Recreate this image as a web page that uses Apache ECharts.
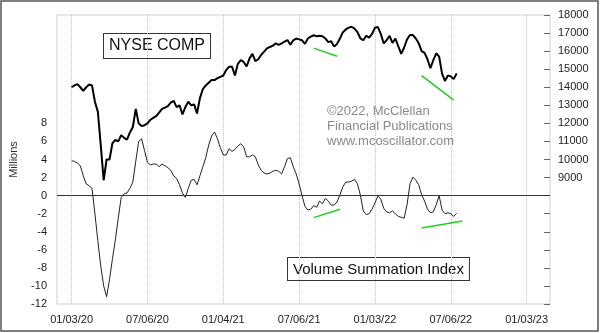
<!DOCTYPE html>
<html>
<head>
<meta charset="utf-8">
<script src="https://cdn.jsdelivr.net/npm/echarts@6/dist/echarts.min.js"></script>
<style>
html,body{margin:0;padding:0;background:#fff;}
#chart{width:600px;height:333px;}
</style>
</head>
<body>
<div id="chart"></div>
<script>
// weekly categories (Fridays) starting 2019-11-29, 170 weeks
const startDate = new Date(Date.UTC(2019, 10, 29));
const weekCount = 170;
const categories = [];
for (let i = 0; i < weekCount; i++) {
  const d = new Date(startDate.getTime() + i * 7 * 86400000);
  const mm = String(d.getUTCMonth() + 1).padStart(2, '0');
  const dd = String(d.getUTCDate()).padStart(2, '0');
  const yy = String(d.getUTCFullYear()).slice(2);
  categories.push(mm + '/' + dd + '/' + yy);
}
const xTickLabels = ['01/03/20','07/06/20','01/04/21','07/06/21','01/03/22','07/06/22','01/03/23'];
const firstTickWeek = 5;
const weeksPerTick = 26;
const dataStartWeek = 5;

// NYSE Composite, weekly (from 01/03/20)
const nyseValues = [
14000,14100,14170,14000,13800,14000,14150,14100,13200,12650,
10800,8850,10000,10000,10900,11080,11000,11350,11200,11100,
11500,11800,12800,12000,11850,11900,12000,12200,12300,12400,
12600,12800,12870,12950,13150,13250,12900,13000,12500,12900,
13200,13000,13050,12550,13400,13900,14100,14250,14400,14400,
14500,14570,14650,14950,15140,15140,14650,15300,15500,15400,
15150,15600,15850,15450,15550,15800,15970,16150,16230,16300,
16430,16350,16430,16520,16615,16350,16600,16700,16650,16600,
16400,16700,16800,16880,16820,16850,16820,16700,16500,16550,
16250,16400,16700,17050,17200,17300,17350,17250,17050,16710,
16600,16850,16750,16950,17300,17330,16950,16430,16600,16850,
16450,16700,16270,15850,16200,16650,16890,16890,16700,16430,
16000,15900,15550,15050,15500,15880,15700,14750,14350,14650,
14600,14450,14770
];

// Volume Summation Index, millions, weekly (from 01/03/20)
const vsiValues = [
3.85,3.8,3.6,3.3,2.2,1.3,1.1,0.8,-2.0,-5.0,
-7.8,-10.0,-11.2,-9.3,-7.0,-4.9,-2.5,-0.2,0.2,0.3,
0.8,1.5,3.8,6.0,6.3,5.0,3.7,3.4,3.5,3.5,
3.2,3.5,3.3,3.1,2.8,2.2,1.9,1.2,0.3,-0.2,
0.8,1.7,1.8,1.2,2.2,3.2,4.2,5.6,6.6,7.05,
6.3,5.3,4.5,4.5,5.2,4.9,5.1,5.5,5.75,5.4,
4.3,4.3,4.5,4.3,3.4,2.8,2.5,2.4,2.5,2.7,
2.8,2.7,2.4,3.2,4.1,4.2,3.2,2.4,1.3,0.0,
-1.2,-1.6,-1.5,-1.1,-1.3,-0.6,-0.9,-0.3,-0.6,-1.05,
-1.05,-0.7,0.1,1.0,1.5,1.5,1.6,1.8,1.3,0.05,
-1.7,-2.1,-2.0,-1.5,-0.8,-0.05,-0.4,-1.4,-1.8,-1.9,
-1.7,-2.0,-2.3,-2.4,-2.5,-1.0,1.3,2.05,1.7,1.2,
0.1,-0.6,-1.5,-1.9,-1.8,-1.0,0.0,-1.6,-2.0,-1.9,
-2.0,-2.3,-1.95
];

// green divergence lines [weekIndex, value]
const trendNyse1 = [[88, 16168], [96, 15714]];
const trendNyse2 = [[125, 14645], [136, 13290]];
const trendVsi1 = [[88, -2.44], [97, -1.5]];
const trendVsi2 = [[125, -3.58], [139, -2.81]];

function pad(values) {
  const out = new Array(weekCount).fill(null);
  values.forEach((v, k) => { out[dataStartWeek + k] = v; });
  return out;
}
const isTick = (idx) => idx >= firstTickWeek && (idx - firstTickWeek) % weeksPerTick === 0 &&
  (idx - firstTickWeek) / weeksPerTick < xTickLabels.length;

const FONT = "'Liberation Sans', Arial, sans-serif";
const chart = echarts.init(document.getElementById('chart'), null, {renderer: 'canvas'});
chart.setOption({
  animation: false,
  backgroundColor: '#ffffff',
  grid: {left: 55, right: 50, top: 15, bottom: 29, show: true, borderColor: '#cfcfcf', borderWidth: 1},
  xAxis: {
    type: 'category', data: categories, boundaryGap: false,
    axisLine: {show: false}, axisTick: {show: false},
    axisLabel: {
      interval: (idx) => isTick(idx), margin: 10,
      color: '#222', fontFamily: FONT, fontSize: 11,
      formatter: (val, idx) => xTickLabels[(idx - firstTickWeek) / weeksPerTick]
    },
    splitLine: {show: true, interval: (idx) => isTick(idx), lineStyle: {color: '#c4c4c4', type: 'dotted', width: 1}}
  },
  yAxis: [
    {
      type: 'value', position: 'left', min: -12, max: 20, interval: 2,
      name: 'Millions', nameLocation: 'middle', nameGap: 38, nameRotate: 90,
      nameTextStyle: {color: '#333', fontFamily: FONT, fontSize: 11},
      axisLine: {show: false}, axisTick: {show: false}, splitLine: {show: false},
      axisLabel: {color: '#222', fontFamily: FONT, fontSize: 11, margin: 10,
        formatter: (v) => v > 8 ? '' : String(v)}
    },
    {
      type: 'value', position: 'right', min: 2000, max: 18000, interval: 1000,
      axisLine: {show: false}, splitLine: {show: false},
      axisTick: {show: true, inside: true, length: 6, lineStyle: {color: '#666'}},
      axisLabel: {color: '#222', fontFamily: FONT, fontSize: 11, margin: 8,
        formatter: (v) => v < 9000 ? '' : String(v)}
    }
  ],
  series: [
    {
      name: 'VSI', type: 'line', yAxisIndex: 0, data: pad(vsiValues),
      showSymbol: false, symbol: 'none', connectNulls: false,
      lineStyle: {color: '#222', width: 1},
      markLine: {silent: true, symbol: 'none', label: {show: false},
        lineStyle: {color: '#333', type: 'solid', width: 1},
        data: [{yAxis: 0}]}
    },
    {
      name: 'NYSE', type: 'line', yAxisIndex: 1, data: pad(nyseValues),
      showSymbol: false, symbol: 'none',
      lineStyle: {color: '#000', width: 2}
    },
    {type: 'line', yAxisIndex: 1, data: trendNyse1, symbol: 'none', lineStyle: {color: '#22cc22', width: 1.5}},
    {type: 'line', yAxisIndex: 1, data: trendNyse2, symbol: 'none', lineStyle: {color: '#22cc22', width: 1.5}},
    {type: 'line', yAxisIndex: 0, data: trendVsi1, symbol: 'none', lineStyle: {color: '#22cc22', width: 1.5}},
    {type: 'line', yAxisIndex: 0, data: trendVsi2, symbol: 'none', lineStyle: {color: '#22cc22', width: 1.5}}
  ],
  graphic: [
    {type: 'rect', shape: {x: 1, y: 1, width: 597, height: 330},
      style: {fill: 'none', stroke: '#555', lineWidth: 1.5}, silent: true},
    {type: 'text', left: 103, top: 33,
      style: {text: 'NYSE COMP', font: '16px ' + FONT, fill: '#111',
        backgroundColor: '#fff', borderColor: '#333', borderWidth: 1, padding: [3, 5, 3, 5], lineHeight: 18}},
    {type: 'text', left: 287, top: 257,
      style: {text: 'Volume Summation Index', font: '15px ' + FONT, fill: '#111',
        backgroundColor: '#fff', borderColor: '#333', borderWidth: 1, padding: [3, 5, 2, 5], lineHeight: 17}},
    {type: 'text', left: 327, top: 104,
      style: {text: '©2022, McClellan\nFinancial Publications\nwww.mcoscillator.com',
        font: '13px ' + FONT, fill: '#8a8a8a', lineHeight: 15}}
  ]
});
</script>
</body>
</html>
